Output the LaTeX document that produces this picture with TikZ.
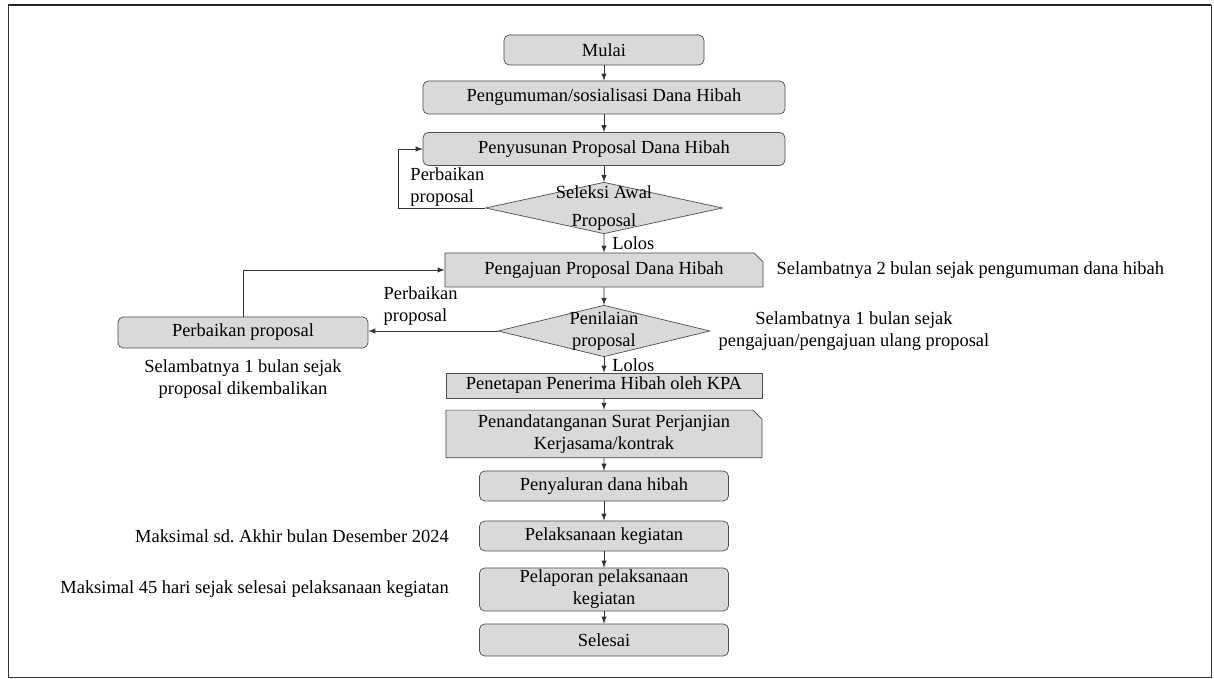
\documentclass[tikz,border=0pt]{standalone}
\usepackage{fontspec}
\setmainfont{Liberation Serif}
\usetikzlibrary{arrows, shapes.geometric, shapes.misc}

\begin{document}
\begin{tikzpicture}[
		>=latex,
		every node/.style={font=\fontsize{10.5}{12.5}\selectfont},
		basevertex/.style={draw=black!70, fill=black!15, inner sep=0pt, align=center},
		smallvertex/.style={basevertex, rectangle, rounded corners=3pt},
		flatvertex/.style={basevertex, rectangle},
		cutvertex/.style={basevertex, chamfered rectangle, chamfered rectangle corners=north east,
		chamfered rectangle sep=0.09cm},
		choicevertex/.style={basevertex, diamond, minimum width=#1, minimum height=1.03cm},
		notetext/.style={inner sep=0pt, align=center},
		link/.style={->, draw=black!80}
		]
		
		\useasboundingbox (-12.08, 1.0) rectangle (12.2, -12.58);
		\draw[black!80] (-11.92, 0.9) rectangle (12.14, -12.54);
		\draw[black!85, line width=1pt] (-11.92, 0.9) -- (12.14, 0.9);
			
		\node[smallvertex, minimum width = 4cm, minimum height = 0.6cm](S0){Mulai};
		\node[smallvertex, minimum width = 7.24cm, minimum height = 0.66cm,
		below of = S0, yshift = 0.05cm](S1){Pengumuman/sosialisasi Dana Hibah};
		\draw[link] (S0) -- (S1);
		\node[smallvertex, minimum width = 7.24cm, minimum height = 0.66cm,
		below of = S1, yshift = -0.03cm](S2){Penyusunan Proposal Dana Hibah};
		\draw[link] (S1) -- (S2);
		\node[choicevertex = 4.74cm, below of = S2, yshift = -0.18cm](S3){};
		\node[notetext](S3t) at (S3){Seleksi Awal\\[3pt]Proposal};
		\draw[link] (S2) -- (S3.north);
		\draw[link] (S3.west) -- ++(-1.74cm, 0) node [anchor = south west, notetext, align = left,
		xshift = 0.24cm, yshift = 0.02cm]{Perbaikan\\proposal} |- (S2.west);
		
		\node[cutvertex, minimum width = 6.36cm, minimum height = 0.68cm,
		below of = S3, yshift = -0.24cm](S4){Pengajuan Proposal Dana Hibah};
		\draw[link] (S3.south) -- (S4) node [midway, right, notetext, xshift = 0.16cm]{Lolos};
		\node[choicevertex = 4.24cm, below of = S4, yshift = -0.22cm](S5){};
		\node[notetext](S5t) at (S5){Penilaian\\proposal};
		\draw[link] (S4) -- (S5.north);
		\node[smallvertex, minimum width = 5cm, minimum height = 0.62cm,
		left of = S5, xshift = -6.22cm, yshift = -0.03cm](S12){Perbaikan proposal};
		\draw[link] (S5.west) -- (S12.east |- S5.west) node [pos = 1, anchor = south west, notetext,
		align = left, xshift = 0.3cm, yshift = 0.1cm]{Perbaikan\\proposal};
		\draw[link] (S12.north) |- (S4.west);
		
		\node[flatvertex, minimum width = 6.32cm, minimum height = 0.5cm,
		below of = S5, yshift = -0.09cm](S6){Penetapan Penerima Hibah oleh KPA};
		\draw[link] (S5.south) -- (S6) node [midway, right, notetext, xshift = 0.16cm]{Lolos};
		\node[cutvertex, minimum width = 6.32cm, minimum height = 0.92cm,
		below of = S6, yshift = 0.03cm](S7){Penandatanganan Surat Perjanjian\\Kerjasama/kontrak};
		\draw[link] (S6) -- (S7);
		\node[smallvertex, minimum width = 4.98cm, minimum height = 0.6cm,
		below of = S7, yshift = -0.04cm](S8){Penyaluran dana hibah};
		\draw[link] (S7) -- (S8);
		\node[smallvertex, minimum width = 4.98cm, minimum height = 0.6cm,
		below of = S8](S9){Pelaksanaan kegiatan};
		\draw[link] (S8) -- (S9);
		\node[smallvertex, minimum width = 4.98cm, minimum height = 0.86cm,
		below of = S9, yshift = -0.07cm](S10){Pelaporan pelaksanaan\\kegiatan};
		\draw[link] (S9) -- (S10);
		\node[smallvertex, minimum width = 4.98cm, minimum height = 0.64cm,
		below of = S10, yshift = -0.01cm](S11){Selesai};
		\draw[link] (S10) -- (S11);
		
		% time limits
		\node[notetext, anchor = west, xshift = 0.26cm](N0) at (S4.east)
		{Selambatnya 2 bulan sejak pengumuman dana hibah};
		\node[notetext, anchor = west, xshift = 0.16cm](N1) at (S5.east)
		{Selambatnya 1 bulan sejak\\pengajuan/pengajuan ulang proposal};
		\node[notetext, anchor = north, yshift = -0.22cm](N2) at (S12.south)
		{Selambatnya 1 bulan sejak\\proposal dikembalikan};
		\node[notetext, anchor = east, xshift = -0.6cm](N3) at (S9.west)
		{Maksimal sd.\ Akhir bulan Desember 2024};
		\node[notetext, anchor = east, xshift = -0.6cm](N4) at (S10.west)
		{Maksimal 45 hari sejak selesai pelaksanaan kegiatan};
	\end{tikzpicture}
\end{document}
